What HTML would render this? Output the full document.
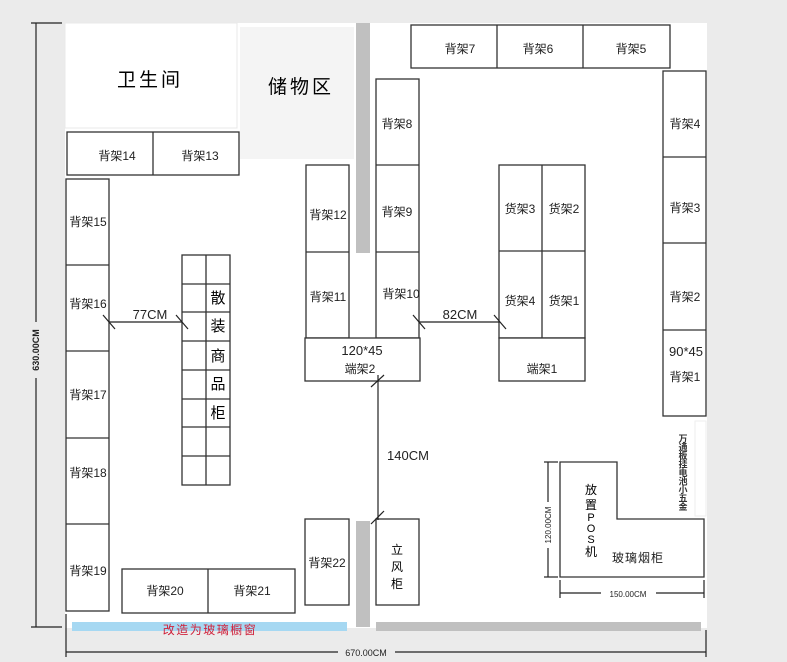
<!DOCTYPE html>
<html><head><meta charset="utf-8"><style>
html,body{margin:0;padding:0;background:#ebebeb;}
svg{display:block;font-family:"Liberation Sans","Noto Sans CJK SC",sans-serif;}
</style></head><body>
<svg width="787" height="662" viewBox="0 0 787 662" xmlns="http://www.w3.org/2000/svg">
<rect x="0" y="0" width="787" height="662" fill="#ebebeb"/>
<rect x="65" y="23" width="642" height="605" fill="#fff"/>
<!-- rooms -->
<rect x="65" y="23" width="172" height="105" fill="#fff" stroke="#e8e8e8"/>
<text x="150" y="86" font-size="19" text-anchor="middle" letter-spacing="3">卫生间</text>
<rect x="240" y="27" width="114" height="132" fill="#f4f4f4"/>
<text x="301" y="93" font-size="19" text-anchor="middle" letter-spacing="3">储物区</text>
<rect x="356" y="23" width="14" height="230" fill="#c0c0c0"/>
<rect x="356" y="521" width="14" height="106" fill="#c0c0c0"/>
<rect x="72" y="622" width="275" height="9" fill="#a6d8f2"/>
<rect x="376" y="622" width="325" height="9" fill="#c0c0c0"/>
<rect x="695" y="421" width="11" height="95" fill="#fff" stroke="#eee"/>
<text x="210" y="634" font-size="12" fill="#d0203a" text-anchor="middle" letter-spacing="1.5">改造为玻璃橱窗</text>

<g fill="#fff" stroke="#333" stroke-width="1.3">
<rect x="67" y="132" width="172" height="43"/><line x1="153" y1="132" x2="153" y2="175"/>
<rect x="66" y="179" width="43" height="432"/>
<line x1="66" y1="265" x2="109" y2="265"/><line x1="66" y1="351" x2="109" y2="351"/><line x1="66" y1="438" x2="109" y2="438"/><line x1="66" y1="524" x2="109" y2="524"/>
<rect x="182" y="255" width="48" height="230"/><line x1="206" y1="255" x2="206" y2="485"/>
<line x1="182" y1="284" x2="230" y2="284"/><line x1="182" y1="312" x2="230" y2="312"/><line x1="182" y1="341" x2="230" y2="341"/><line x1="182" y1="370" x2="230" y2="370"/><line x1="182" y1="399" x2="230" y2="399"/><line x1="182" y1="427" x2="230" y2="427"/><line x1="182" y1="456" x2="230" y2="456"/>
<rect x="306" y="165" width="43" height="173"/><line x1="306" y1="252" x2="349" y2="252"/>
<rect x="376" y="79" width="43" height="259"/><line x1="376" y1="165" x2="419" y2="165"/><line x1="376" y1="252" x2="419" y2="252"/>
<rect x="305" y="338" width="115" height="43"/>
<rect x="411" y="25" width="259" height="43"/><line x1="497" y1="25" x2="497" y2="68"/><line x1="583" y1="25" x2="583" y2="68"/>
<rect x="663" y="71" width="43" height="345"/><line x1="663" y1="157" x2="706" y2="157"/><line x1="663" y1="243" x2="706" y2="243"/><line x1="663" y1="330" x2="706" y2="330"/>
<rect x="499" y="165" width="86" height="173"/><line x1="542" y1="165" x2="542" y2="338"/><line x1="499" y1="251" x2="585" y2="251"/>
<rect x="499" y="338" width="86" height="43"/>
<rect x="305" y="519" width="44" height="86"/>
<rect x="376" y="519" width="43" height="86"/>
<rect x="122" y="569" width="173" height="44"/><line x1="208" y1="569" x2="208" y2="613"/>
<polygon points="560,462 617,462 617,519 704,519 704,577 560,577"/>
</g>

<g font-size="12" text-anchor="middle" fill="#222">
<text x="117" y="160">背架14</text><text x="200" y="160">背架13</text>
<text x="88" y="226">背架15</text><text x="88" y="308">背架16</text><text x="88" y="399">背架17</text><text x="88" y="477">背架18</text><text x="88" y="575">背架19</text>
<text x="328" y="219">背架12</text><text x="328" y="301">背架11</text>
<text x="397" y="128">背架8</text><text x="397" y="216">背架9</text><text x="401" y="298">背架10</text>
<text x="362" y="355" font-size="13">120*45</text><text x="360" y="373">端架2</text>
<text x="460" y="53">背架7</text><text x="538" y="53">背架6</text><text x="631" y="53">背架5</text>
<text x="685" y="128">背架4</text><text x="685" y="212">背架3</text><text x="685" y="301">背架2</text>
<text x="686" y="356" font-size="13">90*45</text><text x="685" y="381">背架1</text>
<text x="520" y="213">货架3</text><text x="564" y="213">货架2</text><text x="520" y="305">货架4</text><text x="564" y="305">货架1</text>
<text x="542" y="373">端架1</text>
<text x="327" y="567">背架22</text>
<text x="165" y="595">背架20</text><text x="252" y="595">背架21</text>
<text x="638" y="562" letter-spacing="1">玻璃烟柜</text>
</g>
<g font-size="15" text-anchor="middle">
<text x="218" y="303">散</text><text x="218" y="331">装</text><text x="218" y="361">商</text><text x="218" y="389">品</text><text x="218" y="418">柜</text>
</g>
<g font-size="12" text-anchor="middle">
<text x="397" y="554">立</text><text x="397" y="571">风</text><text x="397" y="588">柜</text>
<text x="591" y="494">放</text><text x="591" y="509">置</text><text x="591" y="521" font-size="11">P</text><text x="591" y="532" font-size="11">O</text><text x="591" y="543" font-size="11">S</text><text x="591" y="556">机</text>
</g>
<g font-size="9" text-anchor="middle" font-weight="bold" fill="#333">
<text x="683" y="442">万</text><text x="683" y="450.5">通</text><text x="683" y="459">板</text><text x="683" y="467.5">挂</text><text x="683" y="476">电</text><text x="683" y="484.5">池</text><text x="683" y="493">小</text><text x="683" y="501.5">五</text><text x="683" y="510">金</text>
</g>

<g stroke="#222" stroke-width="1.2" fill="none">
<line x1="109" y1="322" x2="182" y2="322"/><line x1="103" y1="315" x2="115" y2="329"/><line x1="176" y1="315" x2="188" y2="329"/>
<line x1="419" y1="322" x2="500" y2="322"/><line x1="413" y1="315" x2="425" y2="329"/><line x1="494" y1="315" x2="506" y2="329"/>
<line x1="378" y1="375" x2="378" y2="520"/><line x1="371" y1="387" x2="384" y2="375"/><line x1="371" y1="524" x2="384" y2="511"/>
<line x1="36" y1="23" x2="36" y2="322"/><line x1="36" y1="378" x2="36" y2="627"/><line x1="31" y1="23" x2="62" y2="23"/><line x1="31" y1="627" x2="62" y2="627"/>
<line x1="66" y1="614" x2="66" y2="657"/><line x1="706" y1="630" x2="706" y2="657"/>
<line x1="66" y1="652" x2="338" y2="652"/><line x1="395" y1="652" x2="706" y2="652"/>
<line x1="548" y1="462" x2="548" y2="502"/><line x1="548" y1="548" x2="548" y2="577"/><line x1="544" y1="462" x2="558" y2="462"/><line x1="544" y1="577" x2="558" y2="577"/>
<line x1="560" y1="580" x2="560" y2="598"/><line x1="704" y1="580" x2="704" y2="598"/><line x1="560" y1="593" x2="601" y2="593"/><line x1="656" y1="593" x2="704" y2="593"/>
</g>
<g fill="#222" text-anchor="middle">
<text x="150" y="319" font-size="13">77CM</text>
<text x="460" y="319" font-size="13">82CM</text>
<text x="408" y="460" font-size="13">140CM</text>
<text x="366" y="656" font-size="9">670.00CM</text>
<text x="628" y="597" font-size="8">150.00CM</text>
<text transform="translate(551,525) rotate(-90)" font-size="8">120.00CM</text>
<text transform="translate(39,350) rotate(-90)" font-size="9" font-weight="bold">630.00CM</text>
</g>
</svg>
</body></html>
